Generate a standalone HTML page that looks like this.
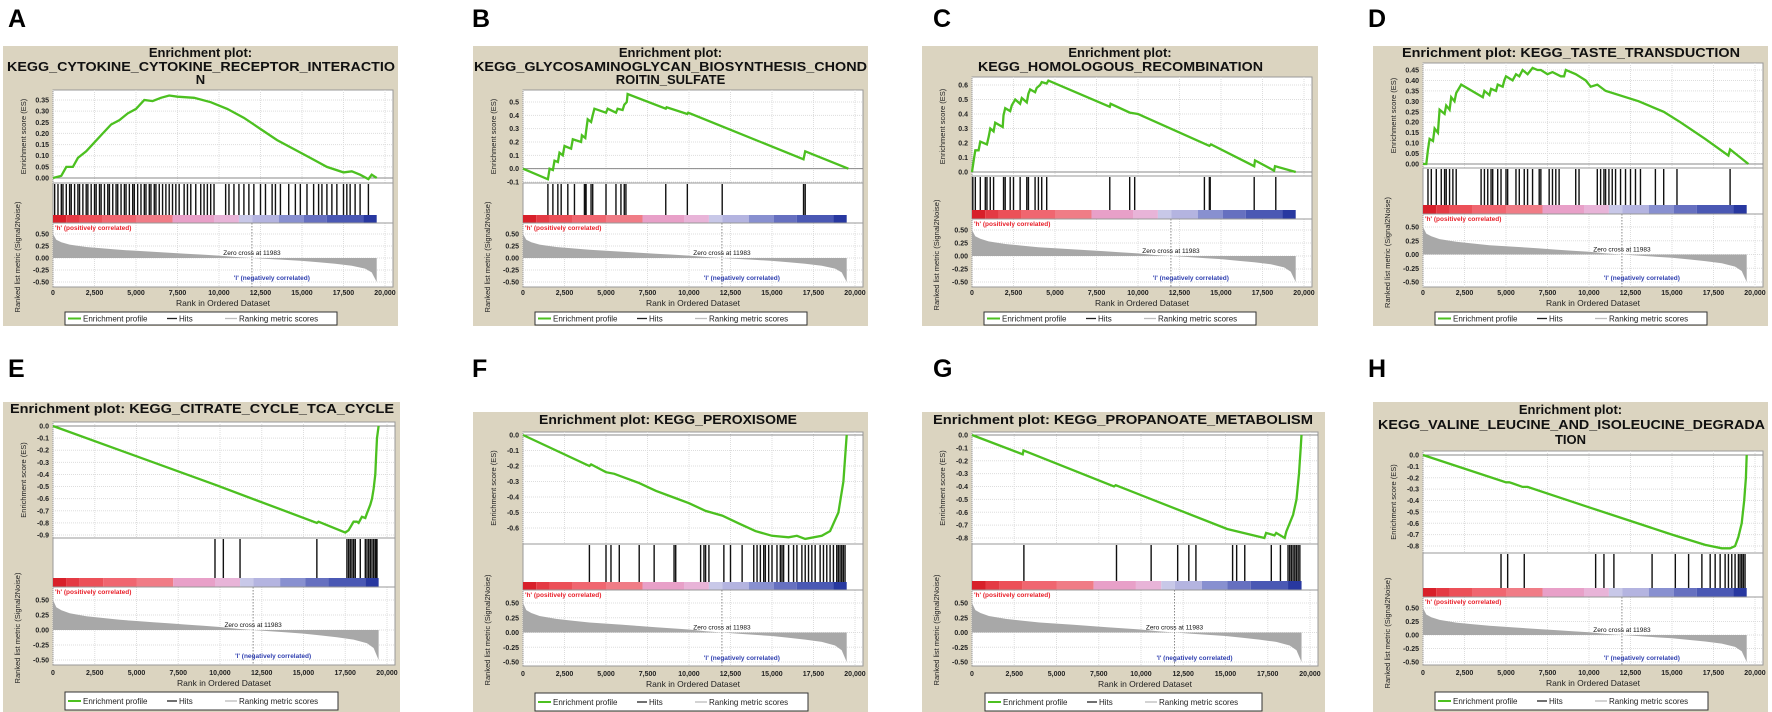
<!DOCTYPE html>
<html><head><meta charset="utf-8"><style>
body{margin:0;background:#fff;}
svg{display:block;font-family:"Liberation Sans",Arial,sans-serif;}
</style></head><body>
<svg id="fig" width="1772" height="712" viewBox="0 0 1772 712" xmlns="http://www.w3.org/2000/svg"></svg>
<script>
// ---------- data (rank in thousands, ES) ----------
const esA=[[0,0],[0.5,0.01],[0.8,0.05],[1.2,0.05],[1.5,0.09],[2,0.12],[2.5,0.16],[3,0.2],[3.5,0.24],[4,0.26],[4.5,0.29],[5,0.31],[5.5,0.35],[6,0.345],[6.5,0.36],[7,0.37],[7.5,0.365],[8.5,0.36],[9.5,0.34],[10.5,0.31],[11.5,0.27],[12.5,0.22],[13.5,0.17],[14.5,0.13],[15.5,0.09],[16.5,0.05],[17.5,0.025],[18,0.03],[18.5,0.015],[19,-0.005],[19.2,0.015],[19.5,0]];
const hitsA=[0.1,0.3,0.5,0.6,0.8,1.0,1.1,1.3,1.5,1.6,1.8,2.0,2.1,2.3,2.5,2.6,2.8,2.9,3.1,3.3,3.4,3.6,3.8,3.9,4.1,4.3,4.4,4.6,4.8,4.9,5.1,5.3,5.5,5.6,5.8,5.9,6.1,6.2,6.4,6.6,6.8,7.0,7.2,7.4,7.6,7.9,8.1,8.3,8.6,8.9,9.1,9.3,9.5,9.7,10.4,10.6,10.9,11.2,11.5,11.8,12.1,12.5,12.8,13.2,13.4,13.7,14.2,14.6,14.9,15.3,15.7,16.0,16.2,16.5,16.8,17.1,17.5,17.7,17.9,18.2,18.5,19.0];
const esB=[[0,0],[1.5,-0.08],[1.6,0],[1.8,-0.01],[1.9,0.06],[2.1,0.05],[2.2,0.12],[2.4,0.1],[2.5,0.17],[2.9,0.15],[3.0,0.22],[3.5,0.2],[3.55,0.25],[3.75,0.23],[3.8,0.28],[3.9,0.37],[4.1,0.35],[4.2,0.4],[4.3,0.45],[5.0,0.42],[5.1,0.45],[5.6,0.42],[5.7,0.45],[6.0,0.44],[6.1,0.48],[6.25,0.5],[6.3,0.56],[8.6,0.45],[8.65,0.46],[9.9,0.41],[9.95,0.42],[16.9,0.07],[17.0,0.13],[19.6,0]];
const hitsB=[1.5,1.8,2.1,2.3,2.7,3.1,3.7,3.75,3.8,4.1,4.2,5.0,5.6,5.9,6.1,6.2,8.6,9.9,12.0,16.9,17.0];
const esC=[[0,0],[0.1,0.08],[0.2,0.15],[0.4,0.15],[0.5,0.21],[0.9,0.19],[1.0,0.24],[1.1,0.3],[1.3,0.28],[1.4,0.34],[1.85,0.31],[1.9,0.39],[2.0,0.44],[2.3,0.42],[2.4,0.46],[2.6,0.5],[2.9,0.47],[3.0,0.51],[3.3,0.48],[3.4,0.54],[3.5,0.57],[3.8,0.55],[3.9,0.58],[4.1,0.6],[4.2,0.62],[4.5,0.61],[4.6,0.63],[8.3,0.45],[8.35,0.47],[9.5,0.41],[10,0.40],[14.3,0.18],[14.4,0.19],[17.0,0.04],[17.05,0.08],[18.2,0.01],[18.25,0.04],[19.5,0]];
const hitsC=[0.05,0.2,0.5,0.8,0.9,1.1,1.3,1.9,2.0,2.3,2.5,2.9,3.3,3.4,3.8,4.0,4.2,4.5,8.3,9.5,9.8,14.0,14.3,14.35,17.0,18.3];
const esD=[[0,0],[0.2,0],[0.3,0.07],[0.4,0.12],[0.6,0.11],[0.7,0.17],[0.9,0.15],[1.0,0.26],[1.3,0.24],[1.4,0.28],[1.6,0.26],[1.7,0.32],[1.9,0.3],[2.0,0.34],[2.3,0.38],[3.6,0.32],[3.7,0.35],[4.0,0.33],[4.1,0.36],[4.4,0.35],[4.5,0.38],[4.8,0.37],[4.9,0.4],[5.0,0.42],[5.4,0.4],[5.6,0.43],[5.8,0.42],[6.0,0.45],[6.3,0.43],[6.6,0.46],[6.9,0.45],[7.1,0.45],[7.5,0.43],[7.8,0.44],[8.3,0.42],[8.5,0.42],[8.6,0.45],[9.2,0.43],[9.8,0.4],[10.1,0.37],[10.5,0.38],[11,0.35],[13,0.3],[14.5,0.25],[15.5,0.2],[17,0.12],[18.4,0.04],[18.5,0.07],[19.6,0]];
const hitsD=[0.3,0.5,0.8,1.1,1.3,1.4,1.6,1.8,2.0,3.5,3.7,3.9,4.1,4.2,4.5,4.7,5.0,5.1,5.6,5.8,6.1,6.3,6.6,7.0,7.1,7.6,7.8,8.0,8.2,9.2,9.4,10.5,10.7,10.9,11.0,11.2,11.4,11.6,11.9,12.2,12.5,12.8,13.1,14.0,14.5,15.3,18.5];
const esE=[[0,0],[9.8,-0.49],[10,-0.5],[15.8,-0.8],[15.9,-0.79],[17.5,-0.88],[17.7,-0.86],[18,-0.79],[18.2,-0.79],[18.3,-0.8],[18.5,-0.75],[18.7,-0.76],[18.8,-0.72],[19,-0.65],[19.1,-0.6],[19.2,-0.52],[19.3,-0.4],[19.35,-0.25],[19.4,-0.1],[19.5,0]];
const hitsE=[9.7,10.2,11.2,15.8,17.6,17.7,17.8,17.9,18.0,18.1,18.4,18.7,18.8,18.9,19.0,19.1,19.2,19.3,19.35,19.4];
const esF=[[0,0],[4,-0.2],[4.1,-0.19],[5,-0.24],[5.5,-0.25],[6,-0.27],[7,-0.31],[8,-0.36],[9,-0.4],[10,-0.44],[11,-0.49],[12,-0.52],[13,-0.57],[14,-0.62],[15,-0.65],[16,-0.66],[16.5,-0.65],[17,-0.67],[18,-0.65],[18.5,-0.62],[19,-0.5],[19.3,-0.3],[19.5,0]];
const hitsF=[4.0,5.0,5.3,5.8,7.0,7.9,9.1,9.2,10.7,10.9,11.0,11.2,12.1,12.5,13.2,13.9,14.1,14.3,14.5,14.6,14.8,15.0,15.3,15.5,15.6,15.7,16.0,16.3,16.5,16.8,17.0,17.2,17.4,17.6,17.9,18.1,18.3,18.5,18.7,18.9,19.0,19.1,19.2,19.3,19.4];
const esG=[[0,0],[3.0,-0.15],[3.05,-0.12],[8.4,-0.4],[8.5,-0.39],[15.1,-0.73],[17.3,-0.8],[17.4,-0.76],[17.9,-0.78],[18.0,-0.76],[18.5,-0.8],[18.6,-0.75],[19.0,-0.62],[19.2,-0.5],[19.35,-0.3],[19.45,-0.1],[19.5,0]];
const hitsG=[3.07,8.55,10.6,12.17,12.83,13.25,15.42,15.66,16.14,17.71,18.25,18.7,18.8,18.9,19.0,19.1,19.2,19.3,19.4];
const esH=[[0,0],[5,-0.24],[5.2,-0.24],[5.4,-0.25],[6,-0.28],[6.3,-0.28],[10,-0.46],[15,-0.7],[17,-0.79],[18,-0.82],[18.5,-0.82],[18.8,-0.8],[19,-0.72],[19.2,-0.6],[19.35,-0.4],[19.45,-0.2],[19.5,0]];
const hitsH=[4.7,5.1,6.1,10.4,10.9,11.5,13.8,15.2,16.0,16.8,17.3,17.6,17.9,18.2,18.4,18.6,18.8,19.0,19.1,19.2,19.3,19.4];
const rankedMetric=[[0,0.5],[0.2,0.38],[0.5,0.33],[1,0.28],[2,0.23],[3,0.2],[4,0.17],[5,0.15],[6,0.13],[7,0.11],[8,0.09],[9,0.07],[10,0.05],[11,0.02],[11.983,0],[13,-0.02],[14,-0.04],[15,-0.06],[16,-0.09],[17,-0.12],[18,-0.16],[18.8,-0.22],[19.2,-0.3],[19.5,-0.5]];
const xTickValues=[0,2500,5000,7500,10000,12500,15000,17500,20000];
const xTickLabels=["0","2,500","5,000","7,500","10,000","12,500","15,000","17,500","20,000"];
const rankTickValues=[0.5,0.25,0,-0.25,-0.5];
const rankTickLabels=["0.50","0.25","0.00","-0.25","-0.50"];

// ---------- layout ----------
const P=[
 {k:'A',lx:8,ly:27,box:[3,46,398,326],titles:[["Enrichment plot:",57,0,0],["KEGG_CYTOKINE_CYTOKINE_RECEPTOR_INTERACTIO",71,7,395],["N",84,0,0]],x0:53,xr:393,esT:90,esB:183,ref:[0.35,100,0,178],ticks:[0,0.05,0.1,0.15,0.2,0.25,0.3,0.35],dec:2,hB:215,bB:223,rkB:287,rref:[234,282],xl:295,xt:306,lg:[65,312,337,325],es:esA,hits:hitsA},
 {k:'B',lx:472,ly:27,box:[473,46,868,326],titles:[["Enrichment plot:",57,0,0],["KEGG_GLYCOSAMINOGLYCAN_BIOSYNTHESIS_CHOND",71,474,867],["ROITIN_SULFATE",84,0,0]],x0:523,xr:863,esT:90,esB:183,ref:[0.5,102,-0.1,182],ticks:[-0.1,0,0.1,0.2,0.3,0.4,0.5],dec:1,hB:215,bB:223,rkB:287,rref:[234,282],xl:295,xt:306,lg:[535,312,807,325],es:esB,hits:hitsB},
 {k:'C',lx:933,ly:27,box:[922,46,1318,326],titles:[["Enrichment plot:",57,0,0],["KEGG_HOMOLOGOUS_RECOMBINATION",71,978,1263]],x0:972,xr:1312,esT:77,esB:176,ref:[0.6,85,0,172],ticks:[0,0.1,0.2,0.3,0.4,0.5,0.6],dec:1,hB:210,bB:219,rkB:287,rref:[230,282],xl:295,xt:306,lg:[984,312,1256,325],es:esC,hits:hitsC},
 {k:'D',lx:1368,ly:27,box:[1373,46,1768,326],titles:[["Enrichment plot: KEGG_TASTE_TRANSDUCTION",57,1402,1740]],x0:1423,xr:1763,esT:63,esB:168,ref:[0.45,70,0,164],ticks:[0,0.05,0.1,0.15,0.2,0.25,0.3,0.35,0.4,0.45],dec:2,hB:205,bB:214,rkB:287,rref:[227,282],xl:295,xt:306,lg:[1435,312,1707,325],es:esD,hits:hitsD},
 {k:'E',lx:8,ly:377,box:[3,402,400,712],titles:[["Enrichment plot: KEGG_CITRATE_CYCLE_TCA_CYCLE",413,10,394]],x0:53,xr:395,esT:422,esB:538,ref:[0,426,-0.9,535],ticks:[0,-0.1,-0.2,-0.3,-0.4,-0.5,-0.6,-0.7,-0.8,-0.9],dec:1,hB:578,bB:587,rkB:665,rref:[600,660],xl:675,xt:686,lg:[65,692,338,710],es:esE,hits:hitsE},
 {k:'F',lx:472,ly:377,box:[473,412,868,712],titles:[["Enrichment plot: KEGG_PEROXISOME",424,539,797]],x0:523,xr:863,esT:432,esB:544,ref:[0,435,-0.6,528],ticks:[0,-0.1,-0.2,-0.3,-0.4,-0.5,-0.6],dec:1,hB:582,bB:590,rkB:666,rref:[603,662],xl:676,xt:687,lg:[535,693,808,711],es:esF,hits:hitsF},
 {k:'G',lx:933,ly:377,box:[922,412,1325,712],titles:[["Enrichment plot: KEGG_PROPANOATE_METABOLISM",424,933,1313]],x0:972,xr:1318,esT:432,esB:544,ref:[0,435,-0.8,538],ticks:[0,-0.1,-0.2,-0.3,-0.4,-0.5,-0.6,-0.7,-0.8],dec:1,hB:581,bB:590,rkB:666,rref:[603,662],xl:676,xt:687,lg:[985,693,1262,711],es:esG,hits:hitsG},
 {k:'H',lx:1368,ly:377,box:[1373,402,1768,712],titles:[["Enrichment plot:",414,0,0],["KEGG_VALINE_LEUCINE_AND_ISOLEUCINE_DEGRADA",429,1378,1765],["TION",444,0,0]],x0:1423,xr:1763,esT:451,esB:553,ref:[0,455,-0.8,546],ticks:[0,-0.1,-0.2,-0.3,-0.4,-0.5,-0.6,-0.7,-0.8],dec:1,hB:588,bB:597,rkB:665,rref:[608,662],xl:675,xt:686,lg:[1435,692,1708,710],es:esH,hits:hitsH}
];
const barColors=['#d8202a','#e43a44','#ec5058','#f06670','#f07c86','#e8a0c8','#e8b4d8','#c8c8e8','#b4b4e0','#8890d0','#6670c0','#4a58b4','#2838a0'];
const barStops=[0,0.8,1.6,3,5,7.2,9.7,11.2,12,13.6,15.1,16.5,18.7,19.5];

const NS='http://www.w3.org/2000/svg';
const svg=document.getElementById('fig');
function mk(tag,attrs,parent,name,inter){const e=document.createElementNS(NS,tag);for(const a in attrs)e.setAttribute(a,attrs[a]);
 
 
 (parent||svg).appendChild(e);return e;}
function txt(s,attrs,parent,name){const e=mk('text',attrs,parent,name,false);e.textContent=s;return e;}

P.forEach(p=>{
 const g=mk('g',{},svg,'panel-'+p.k.toLowerCase(),false);
 txt(p.k,{x:p.lx,y:p.ly,'font-size':25,'font-weight':'bold',fill:'#000'},g,'panel-label');
 mk('rect',{x:p.box[0],y:p.box[1],width:p.box[2]-p.box[0],height:p.box[3]-p.box[1],fill:'#dbd4c0'},g,'panel-background');
 const cx=(p.box[0]+p.box[2])/2;
 p.titles.forEach(t=>{const a={x:cx,y:t[1],'font-size':13,'font-weight':'bold','text-anchor':'middle',fill:'#111'};
  if(t[2]){a.x=t[2];a['text-anchor']='start';a.textLength=t[3]-t[2];a.lengthAdjust='spacingAndGlyphs';}
  txt(t[0],a,g,'plot-title');});
 const xs=v=>p.x0+v/20000*(p.xr-p.x0-8);
 const xk=v=>xs(v*1000);
 const es=v=>p.ref[1]+(v-p.ref[0])*(p.ref[3]-p.ref[1])/(p.ref[2]-p.ref[0]);
 const rk=v=>p.rref[0]+(0.5-v)*(p.rref[1]-p.rref[0]);
 const hT=p.esB, bT=p.hB;
 mk('rect',{x:p.x0,y:p.esT,width:p.xr-p.x0,height:p.rkB-p.esT,fill:'#fff',stroke:'#999','stroke-width':1},g,'plot-area');
 xTickValues.forEach(v=>{mk('line',{x1:xs(v),x2:xs(v),y1:p.esT,y2:p.esB,stroke:'#ddd','stroke-dasharray':'1,1'},g,'es-grid-x');
  mk('line',{x1:xs(v),x2:xs(v),y1:p.bB,y2:p.rkB,stroke:'#ddd','stroke-dasharray':'1,1'},g,'rank-grid-x');});
 p.ticks.forEach(v=>{mk('line',{x1:p.x0,x2:p.xr,y1:es(v),y2:es(v),stroke:'#ddd','stroke-dasharray':'1,1'},g,'es-grid-y');
  txt(v.toFixed(p.dec),{x:p.x0-4,y:es(v)+2.5,'font-size':7,'font-weight':'bold','text-anchor':'end',fill:'#222'},g,'es-tick-label');});
 mk('line',{x1:p.x0,x2:p.xr,y1:es(0),y2:es(0),stroke:'#888','stroke-width':1},g,'es-zero-line');
 rankTickValues.forEach((v,i)=>{mk('line',{x1:p.x0,x2:p.xr,y1:rk(v),y2:rk(v),stroke:'#ddd','stroke-dasharray':'1,1'},g,'rank-grid-y');
  txt(rankTickLabels[i],{x:p.x0-4,y:rk(v)+2.5,'font-size':7,'font-weight':'bold','text-anchor':'end',fill:'#222'},g,'rank-tick-label');});
 mk('line',{x1:p.x0,x2:p.xr,y1:hT,y2:hT,stroke:'#999'},g,'es-separator');
 p.hits.forEach(h=>{mk('line',{x1:xk(h),x2:xk(h),y1:hT+1,y2:bT,stroke:'#111','stroke-width':1.4},g,'hit-line');});
 for(let i=0;i<barColors.length;i++){mk('rect',{x:xk(barStops[i]),y:bT,width:xk(barStops[i+1])-xk(barStops[i]),height:p.bB-bT,fill:barColors[i]},g,'rank-color-segment');}
 mk('line',{x1:p.x0,x2:p.xr,y1:p.bB,y2:p.bB,stroke:'#999'},g,'bar-separator');
 let d='M'+xk(0)+','+rk(0);
 rankedMetric.forEach(q=>{d+=' L'+xk(q[0]).toFixed(1)+','+rk(q[1]).toFixed(1);});
 d+=' L'+xk(19.5)+','+rk(0)+' Z';
 mk('path',{d:d,fill:'#a8a8a8',stroke:'none'},g,'ranked-metric-area');
 mk('line',{x1:xk(11.983),x2:xk(11.983),y1:p.bB,y2:p.rkB,stroke:'#888','stroke-dasharray':'1.5,1.5'},g,'zero-cross-line');
 txt("Zero cross at 11983",{x:xk(11.983),y:rk(0)-3,'font-size':6.5,'text-anchor':'middle',fill:'#111'},g,'zero-cross-label');
 txt("'h' (positively correlated)",{x:p.x0+2,y:p.bB+7,'font-size':6.5,'font-weight':'bold',fill:'#e8202a'},g,'positive-label');
 txt("'l' (negatively correlated)",{x:xk(11.983)+20,y:rk(-0.5)-2,'font-size':6.5,'font-weight':'bold','text-anchor':'middle',fill:'#3040b0'},g,'negative-label');
 mk('polyline',{points:p.es.map(q=>xk(q[0]).toFixed(1)+','+es(q[1]).toFixed(1)).join(' '),fill:'none',stroke:'#4cc020','stroke-width':2.3},g,'enrichment-profile');
 xTickValues.forEach((v,i)=>txt(xTickLabels[i],{x:xs(v),y:p.xl,'font-size':7,'font-weight':'bold','text-anchor':'middle',fill:'#222'},g,'x-tick-label'));
 txt("Rank in Ordered Dataset",{x:(p.x0+p.xr)/2,y:p.xt,'font-size':8.5,'text-anchor':'middle',fill:'#222'},g,'x-axis-title');
 txt("Enrichment score (ES)",{x:0,y:0,'font-size':7.5,'text-anchor':'middle',fill:'#222',transform:`translate(${p.x0-27},${(p.esT+p.esB)/2}) rotate(-90)`},g,'es-axis-title');
 txt("Ranked list metric (Signal2Noise)",{x:0,y:0,'font-size':7.5,'text-anchor':'middle',fill:'#222',transform:`translate(${p.x0-33},${(p.bB+p.rkB)/2+2}) rotate(-90)`},g,'rank-axis-title');
 const L=p.lg, lg=mk('g',{},g,'legend',false);
 mk('rect',{x:L[0],y:L[1],width:L[2]-L[0],height:L[3]-L[1],fill:'#fff',stroke:'#333'},lg,'legend-box');
 const ly=(L[1]+L[3])/2;
 mk('line',{x1:L[0]+3,x2:L[0]+16,y1:ly,y2:ly,stroke:'#4cc020','stroke-width':2},lg,'legend-swatch-profile');
 txt("Enrichment profile",{x:L[0]+18,y:ly+3,'font-size':8,fill:'#222'},lg,'legend-entry-profile');
 mk('line',{x1:L[0]+102,x2:L[0]+112,y1:ly,y2:ly,stroke:'#222','stroke-width':1.3},lg,'legend-swatch-hits');
 txt("Hits",{x:L[0]+114,y:ly+3,'font-size':8,fill:'#222'},lg,'legend-entry-hits');
 mk('line',{x1:L[0]+160,x2:L[0]+172,y1:ly,y2:ly,stroke:'#bbb','stroke-width':1.3},lg,'legend-swatch-ranking');
 txt("Ranking metric scores",{x:L[0]+174,y:ly+3,'font-size':8,fill:'#222'},lg,'legend-entry-ranking');
});
</script>
</body></html>
